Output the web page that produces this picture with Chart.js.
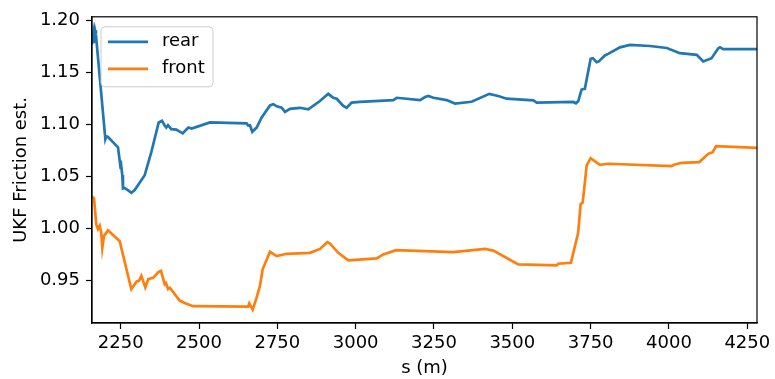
<!DOCTYPE html>
<html>
<head>
<meta charset="utf-8">
<script src="https://cdn.jsdelivr.net/npm/chart.js@4/dist/chart.umd.min.js"></script>
<style>
  html, body { margin: 0; padding: 0; background: #fff; }
  #c { display: block; }
</style>
</head>
<body>
<canvas id="c" width="775" height="379"></canvas>
<script>
// ---- data ----
const rearS = [2158, 2162, 2164, 2168, 2171, 2201, 2204, 2209.5, 2225.4, 2241.4, 2248.7, 2251, 2255, 2257.3, 2262, 2273, 2284, 2294.7, 2326.6, 2347.7, 2371.3, 2381.8, 2390.4, 2395.5, 2401, 2411.5, 2427.5, 2448, 2466, 2476.6, 2535, 2652, 2657, 2662.7, 2670, 2684, 2700, 2726.5, 2737, 2748, 2764, 2774.4, 2790, 2822, 2848.8, 2886, 2912.6, 2928.6, 2939.5, 2960.5, 2971.3, 2987, 3013.8, 3120, 3131, 3205.5, 3221.5, 3232, 3248, 3290.5, 3317, 3370, 3426.5, 3455, 3482, 3567, 3578, 3694.6, 3703, 3710.6, 3721, 3731.5, 3750, 3757, 3769, 3776, 3795.5, 3806, 3843.5, 3875.5, 3939.5, 3993, 4035, 4088.5, 4109.5, 4136, 4157.5, 4163, 4173, 4281];
const rearV = [1.177, 1.186, 1.178, 1.1905, 1.186, 1.086, 1.0886, 1.088, 1.083, 1.078, 1.0608, 1.062, 1.0513, 1.0386, 1.039, 1.037, 1.0345, 1.037, 1.0513, 1.0734, 1.1019, 1.1035, 1.099, 1.097, 1.0993, 1.0955, 1.095, 1.0915, 1.097, 1.096, 1.102, 1.101, 1.099, 1.0993, 1.093, 1.097, 1.1067, 1.1183, 1.1195, 1.1174, 1.116, 1.112, 1.115, 1.116, 1.1145, 1.1225, 1.1294, 1.1256, 1.1247, 1.1178, 1.116, 1.121, 1.1216, 1.1234, 1.1256, 1.1234, 1.1263, 1.1273, 1.1256, 1.1234, 1.120, 1.1218, 1.1294, 1.1273, 1.1247, 1.1231, 1.121, 1.1216, 1.1203, 1.1225, 1.1335, 1.1342, 1.163, 1.1636, 1.1598, 1.1605, 1.1662, 1.1677, 1.174, 1.1763, 1.1753, 1.1734, 1.1684, 1.1668, 1.1605, 1.1636, 1.1731, 1.174, 1.1722, 1.1722];

const frontS = [2158, 2164.8, 2172, 2177.5, 2183, 2188, 2191.3, 2196.7, 2209.5, 2246.8, 2283.8, 2301, 2308.4, 2315.8, 2328.5, 2338, 2353, 2371.3, 2378.6, 2390.4, 2394.6, 2401, 2407, 2438.3, 2454, 2480.8, 2657, 2660.5, 2671.3, 2684, 2694.6, 2703, 2726.5, 2748, 2780, 2854, 2886, 2909.5, 2918, 2944.5, 2976.5, 3067, 3088, 3129, 3311.5, 3413, 3439.5, 3519, 3641.5, 3646.5, 3687, 3710, 3718, 3724.6, 3737.4, 3750, 3779.5, 3806, 4008.7, 4016, 4040.6, 4096.7, 4125.5, 4139.5, 4150, 4281];
const frontV = [1.031, 1.029, 1.004, 0.9995, 1.0028, 0.996, 0.9816, 0.993, 0.9984, 0.988, 0.942, 0.9493, 0.950, 0.9547, 0.9436, 0.9516, 0.9528, 0.9585, 0.9595, 0.9468, 0.948, 0.942, 0.9433, 0.931, 0.9288, 0.9256, 0.9253, 0.9284, 0.9224, 0.9341, 0.9452, 0.961, 0.9778, 0.9737, 0.9759, 0.9768, 0.9806, 0.987, 0.9858, 0.9768, 0.9696, 0.9715, 0.9753, 0.9794, 0.9775, 0.9806, 0.979, 0.9658, 0.9648, 0.9664, 0.9673, 0.9958, 1.0234, 1.025, 1.0608, 1.0677, 1.0613, 1.0623, 1.0601, 1.0613, 1.0632, 1.0639, 1.0718, 1.0734, 1.0791, 1.0775];

const seriesLabels = ['rear', 'front'];
const xTicks = [2250, 2500, 2750, 3000, 3250, 3500, 3750, 4000, 4250];
const yTicks = [0.95, 1.00, 1.05, 1.10, 1.15, 1.20];
const xTitle = 's (m)';
const yTitle = 'UKF Friction est.';

// ---- chart ----
const FONT = 'DejaVu Sans';
const toPts = (xs, ys) => xs.map((x, i) => ({ x: x, y: ys[i] }));

const framePlugin = {
  id: 'frame',
  afterDatasetsDraw(chart) {
    const a = chart.chartArea, ctx = chart.ctx;
    ctx.save();
    ctx.strokeStyle = '#000';
    ctx.lineWidth = 1.2;
    ctx.strokeRect(a.left, a.top, a.right - a.left, a.bottom - a.top);
    ctx.restore();
  }
};

const legendPlugin = {
  id: 'mplLegend',
  afterDraw(chart) {
    const ctx = chart.ctx, a = chart.chartArea;
    const x0 = a.left + 9, y0 = a.top + 10, w = 112, h = 60, r = 4;
    ctx.save();
    ctx.beginPath();
    ctx.moveTo(x0 + r, y0);
    ctx.arcTo(x0 + w, y0, x0 + w, y0 + h, r);
    ctx.arcTo(x0 + w, y0 + h, x0, y0 + h, r);
    ctx.arcTo(x0, y0 + h, x0, y0, r);
    ctx.arcTo(x0, y0, x0 + w, y0, r);
    ctx.closePath();
    ctx.fillStyle = 'rgba(255,255,255,0.8)';
    ctx.fill();
    ctx.strokeStyle = '#cccccc';
    ctx.lineWidth = 1;
    ctx.stroke();
    ctx.font = '18px "' + FONT + '"';
    ctx.textBaseline = 'middle';
    ctx.textAlign = 'left';
    chart.data.datasets.forEach((ds, i) => {
      const yy = y0 + 15 + i * 27;
      ctx.strokeStyle = ds.borderColor;
      ctx.lineWidth = 2.7;
      ctx.beginPath();
      ctx.moveTo(x0 + 7, yy);
      ctx.lineTo(x0 + 47, yy);
      ctx.stroke();
      ctx.fillStyle = '#000';
      ctx.fillText(ds.label, x0 + 61, yy);
    });
    ctx.restore();
  }
};

new Chart(document.getElementById('c'), {
  type: 'line',
  data: {
    datasets: [
      { label: seriesLabels[0], data: toPts(rearS, rearV), borderColor: '#1f77b4', borderWidth: 2.7, pointRadius: 0, fill: false, tension: 0 },
      { label: seriesLabels[1], data: toPts(frontS, frontV), borderColor: '#ff7f0e', borderWidth: 2.7, pointRadius: 0, fill: false, tension: 0 }
    ]
  },
  options: {
    responsive: false,
    animation: false,
    devicePixelRatio: 1,
    layout: { padding: { left: 0, top: 13, right: 18, bottom: 0 } },
    plugins: { legend: { display: false }, tooltip: { enabled: false } },
    scales: {
      x: {
        type: 'linear',
        min: 2158.4,
        max: 4281,
        afterBuildTicks: s => { s.ticks = xTicks.map(v => ({ value: v })); },
        afterFit: s => { s.height = 56; },
        grid: { drawOnChartArea: false, drawTicks: true, tickLength: 6, color: '#000', tickWidth: 1.2 },
        border: { display: true, color: '#000', width: 1.2 },
        ticks: { color: '#000', font: { family: FONT, size: 18 }, padding: 4, maxRotation: 0, autoSkip: false, callback: v => String(v) },
        title: { display: true, text: xTitle, color: '#000', font: { family: FONT, size: 18 }, padding: { top: 0, bottom: 0 } }
      },
      y: {
        type: 'linear',
        min: 0.9095,
        max: 1.2033,
        afterBuildTicks: s => { s.ticks = yTicks.map(v => ({ value: v })); },
        afterFit: s => { s.width = 92; },
        grid: { drawOnChartArea: false, drawTicks: true, tickLength: 6, color: '#000', tickWidth: 1.2 },
        border: { display: true, color: '#000', width: 1.2 },
        ticks: { color: '#000', font: { family: FONT, size: 18 }, padding: 6, autoSkip: false, callback: v => Number(v).toFixed(2) },
        title: { display: true, text: yTitle, color: '#000', font: { family: FONT, size: 18 }, padding: { top: 11, bottom: 0 } }
      }
    }
  },
  plugins: [framePlugin, legendPlugin]
});
</script>
</body>
</html>
